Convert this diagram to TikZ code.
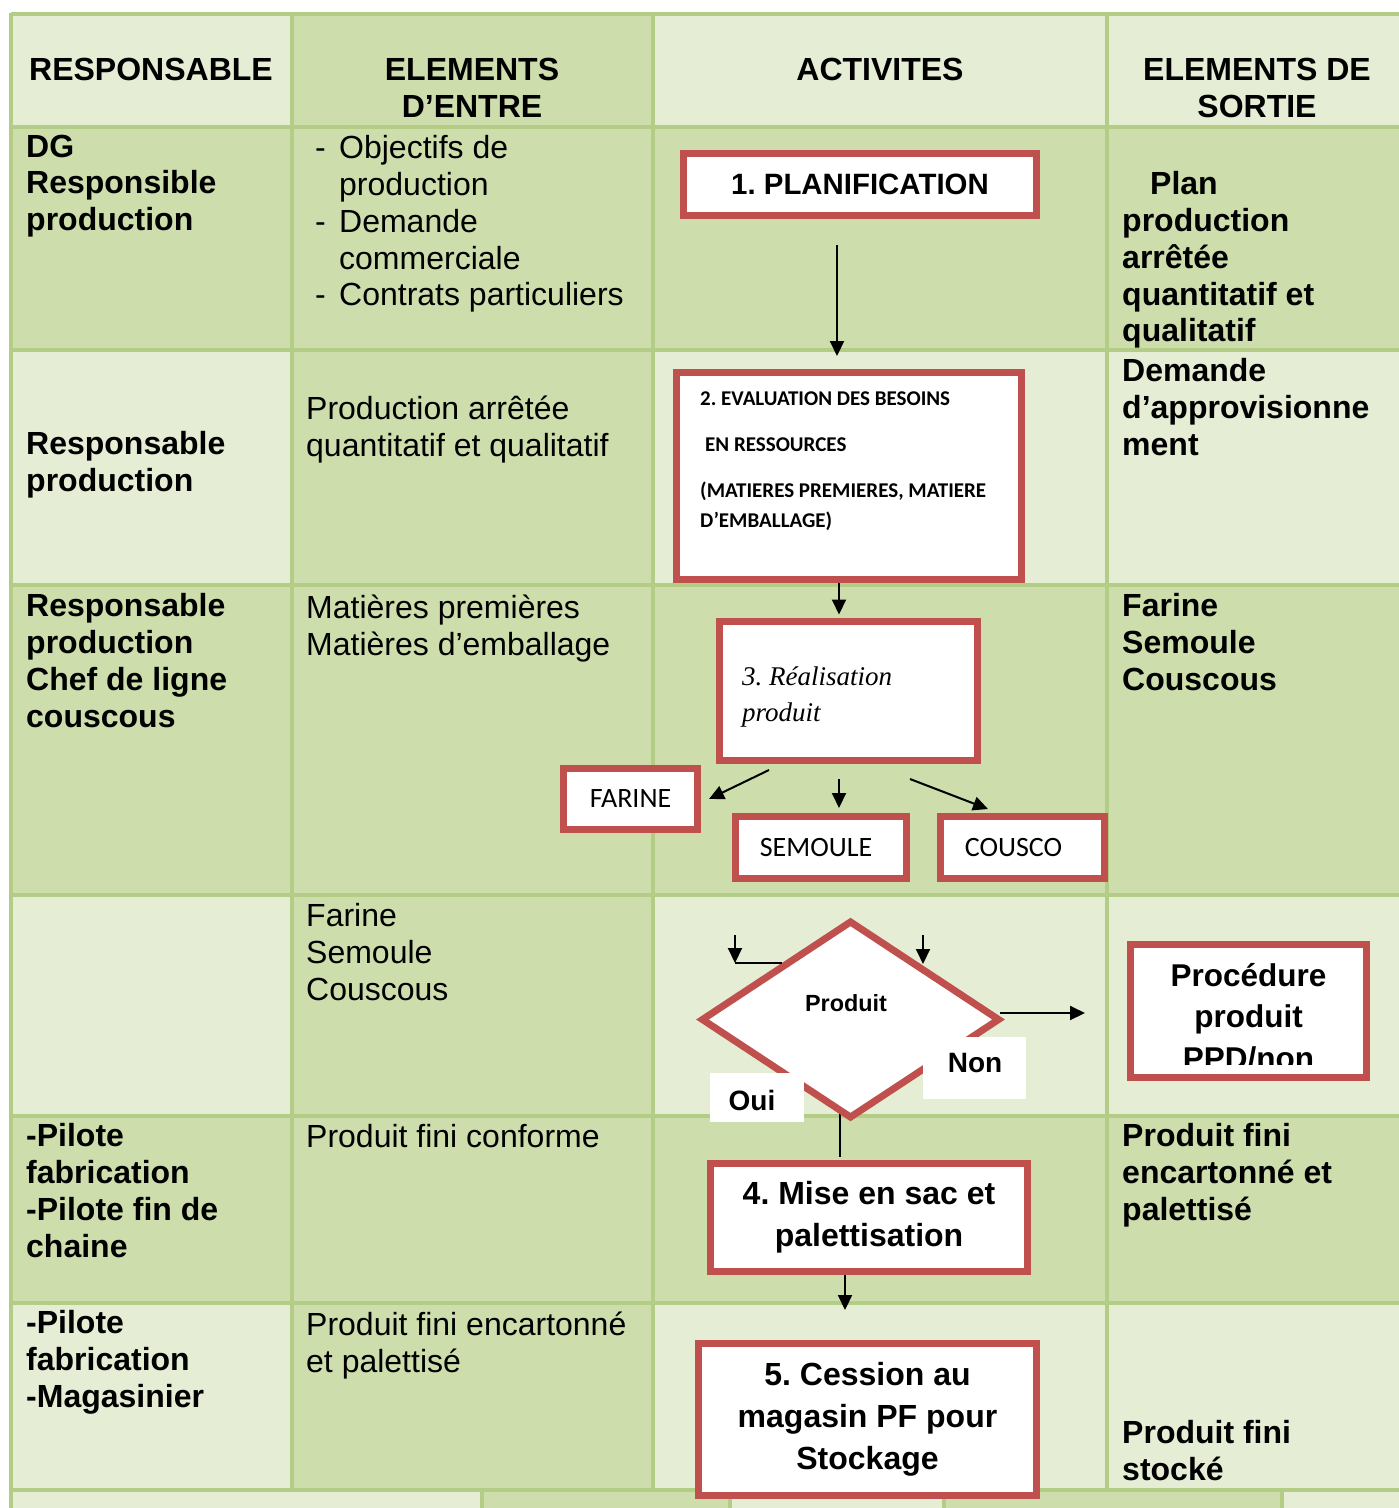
\documentclass[tikz,border=0pt]{standalone}
\usepackage{fontspec}
\setmainfont{Liberation Sans}
\newfontfamily\calib{Carlito}
\newfontfamily\timesf{Liberation Serif}
\usetikzlibrary{arrows.meta,shapes.geometric}
\definecolor{lightg}{HTML}{E5EDD5}
\definecolor{darkg}{HTML}{CDDDAC}
\definecolor{gridc}{HTML}{B3CC86}
\definecolor{redb}{HTML}{C0504D}
\frenchspacing
\begin{document}
\begin{tikzpicture}[x=1pt,y=-1pt,
  gridline/.style={draw=gridc, line width=3.5pt},
  redbox/.style={draw=redb, line width=7pt, fill=white, rectangle, inner sep=0pt},
  arr/.style={line width=2pt, -{Triangle[length=15pt,width=14pt]}},
  plainline/.style={line width=2pt},
  hdr/.style={font=\fontsize{32}{37}\selectfont\bfseries, align=center, inner sep=0pt},
  bl/.style={font=\fontsize{32}{36.75}\selectfont\bfseries, align=left, anchor=north west, inner sep=0pt},
  rl/.style={font=\fontsize{32}{36.75}\selectfont, align=left, anchor=north west, inner sep=0pt},
  boxtxt/.style={font=\fontsize{32}{42}\selectfont\bfseries, align=center},
  prodtxt/.style={font=\calib\fontsize{28}{32}\selectfont},
  lbltxt/.style={font=\fontsize{28}{32}\selectfont\bfseries, inner sep=0pt},
  whitelbl/.style={fill=white, draw=none, inner sep=0pt}
]
\useasboundingbox (0,0) rectangle (1399,1508);
\fill[white] (0,0) rectangle (1399,1508);
% ---- cell shading ----
\fill[lightg] (11,13) rectangle (1399,1490);
\fill[darkg] (292,13) rectangle (653,1490);
\fill[darkg] (11,127) rectangle (1399,350);
\fill[darkg] (11,585) rectangle (1399,895);
\fill[darkg] (11,1116) rectangle (1399,1303);
\fill[lightg] (11,1490) rectangle (482,1508);
\fill[darkg] (482,1490) rectangle (730,1508);
\fill[lightg] (730,1490) rectangle (944,1508);
\fill[darkg] (944,1490) rectangle (1282,1508);
\fill[lightg] (1282,1490) rectangle (1399,1508);
% ---- grid ----
\foreach \y in {14,127,350,585,895,1116,1303,1490} \draw[gridline] (11,\y) -- (1399,\y);
\foreach \x in {11,292,653,1107} \draw[gridline] (\x,13) -- (\x,1490);
\foreach \x in {11,482,730,944,1282} \draw[gridline] (\x,1490) -- (\x,1508);
% ---- header ----
\node[hdr] (h1) at (151,69) {RESPONSABLE};
\node[hdr] (h2) at (472,87.5) {ELEMENTS\\D’ENTRE};
\node[hdr] (h3) at (880,69) {ACTIVITES};
\node[hdr] (h4) at (1257,87.5) {ELEMENTS DE\\SORTIE};
% ---- column 1 ----
\node[bl] (c1r1) at (26,134.5) {DG\\Responsible\\production};
\node[bl] (c1r2) at (26,431.5) {Responsable\\production};
\node[bl] (c1r3) at (26,593.5) {Responsable\\production\\Chef de ligne\\couscous};
\node[bl] (c1r5) at (26,1123.5) {-Pilote\\fabrication\\-Pilote fin de\\chaine};
\node[bl] (c1r6) at (26,1310.5) {-Pilote\\fabrication\\-Magasinier};
% ---- column 2 ----
\node[rl] (c2r1) at (315,135.5) {\makebox[24pt][l]{-}Objectifs de\\\hspace*{24pt}production\\\makebox[24pt][l]{-}Demande\\\hspace*{24pt}commerciale\\\makebox[24pt][l]{-}Contrats particuliers};
\node[rl] (c2r2) at (306,395.5) {Production arrêtée\\quantitatif et qualitatif};
\node[rl] (c2r3) at (306,594.5) {Matières premières\\Matières d’emballage};
\node[rl] (c2r4) at (306,903.5) {Farine\\Semoule\\Couscous};
\node[rl] (c2r5) at (306,1124.5) {Produit fini conforme};
\node[rl] (c2r6) at (306,1311.5) {Produit fini encartonné\\et palettisé};
% ---- column 4 ----
\node[bl] (c4r1) at (1122,171.5) {\hspace*{28pt}Plan\\production\\arrêtée\\quantitatif et\\qualitatif};
\node[bl] (c4r2) at (1122,358.5) {Demande\\d’approvisionne\\ment};
\node[bl] (c4r3) at (1122,593.5) {Farine\\Semoule\\Couscous};
\node[bl] (c4r5) at (1122,1123.5) {Produit fini\\encartonné et\\palettisé};
\node[bl] (c4r6) at (1122,1420.5) {Produit fini\\stocké};
% ---- activity boxes ----
\node[redbox, minimum width=353pt, minimum height=62pt, font=\fontsize{29.4}{34}\selectfont\bfseries] (b1) at (860,184.5) {1. PLANIFICATION};
\node[redbox, minimum width=345pt, minimum height=207pt] (b2) at (849,476) {};
\node[anchor=north west, inner sep=0pt, align=left, font=\calib\bfseries\fontsize{21}{30}\selectfont] (b2t) at (700,392) {2. EVALUATION DES BESOINS\\[16pt]\hspace*{5pt}EN RESSOURCES\\[16pt](MATIERES PREMIERES, MATIERE\\D’EMBALLAGE)};
\node[redbox, minimum width=258pt, minimum height=139pt] (b3) at (848.5,691) {};
\node[anchor=north west, inner sep=0pt, align=left, font=\timesf\itshape\fontsize{27}{36}\selectfont] (b3t) at (742,667) {3. Réalisation\\produit};
\node[redbox, minimum width=134pt, minimum height=61pt, prodtxt] (far) at (630.5,799) {FARINE};
\node[redbox, minimum width=171pt, minimum height=62pt, prodtxt] (sem) at (821,847.5) {\hspace*{-10pt}SEMOULE};
\node[redbox, minimum width=164pt, minimum height=62pt, prodtxt] (cou) at (1022.5,847.5) {\hspace*{-18pt}COUSCO};
% ---- arrows ----
\coordinate (p1s) at (837,245);
\coordinate (p1e) at (837,356);
\draw[arr] (p1s) -- (p1e);
\draw[arr] ([xshift=-10pt]b2.south) -- ([xshift=-9.5pt,yshift=3.5pt]b3.north);
\coordinate (fs) at (769,770); \coordinate (fe) at (709,799);
\coordinate (ss) at (839,779); \coordinate (se) at (839,808);
\coordinate (cs) at (910,779); \coordinate (ce) at (988,809);
\draw[arr] (fs) -- (fe);
\draw[arr] (ss) -- (se);
\draw[arr] (cs) -- (ce);
% ---- boxes 4 (drawn before the decision so the link starts under the diamond) ----
\node[redbox, minimum width=317pt, minimum height=108pt, boxtxt] (b4) at (869,1217.5) {4. Mise en sac et\\palettisation};
\coordinate (dlink) at (839.5,1100);
\draw[plainline] (dlink) -- ([xshift=-29.5pt,yshift=3.5pt]b4.north);
% ---- decision ----
\node[diamond, draw=redb, line width=7pt, fill=white, minimum width=299pt, minimum height=198pt, inner sep=0pt] (dia) at (850.5,1019.5) {};
\node[font=\fontsize{23.4}{28}\selectfont\bfseries, inner sep=0pt] (diat) at (846,1003) {Produit};
\coordinate (l1s) at (735,935); \coordinate (l1c) at (735,963); \coordinate (l1e) at (782,963);
\draw[arr] (l1s) -- (l1c);
\draw[plainline] (l1c) -- (l1e);
\coordinate (r1s) at (923,935); \coordinate (r1e) at (923,964);
\draw[arr] (r1s) -- (r1e);
\coordinate (hs) at (1000,1013); \coordinate (he) at (1085,1013);
\draw[arr] (hs) -- (he);
\node[whitelbl, minimum width=103pt, minimum height=62pt] (nonb) at (974.5,1068) {};
\node[lbltxt] (nont) at (975,1063) {Non};
\node[whitelbl, minimum width=94pt, minimum height=49pt] (ouib) at (757,1097.5) {};
\node[lbltxt] (ouit) at (752,1100) {Oui};
\node[redbox, minimum width=236pt, minimum height=133pt] (proc) at (1248.5,1011) {};
\begin{scope}
\clip (1131,946) rectangle (1366,1064);
\node[anchor=north, inner sep=0pt, align=center, font=\fontsize{31.5}{41.5}\selectfont\bfseries] (proct) at (1248.5,963) {Procédure\\produit\\PPD/non};
\end{scope}
% ---- box 5 ----
\node[redbox, minimum width=338pt, minimum height=152pt, boxtxt] (b5) at (867.5,1419.5) {5. Cession au\\magasin PF pour\\Stockage};
\coordinate (a45e) at (845,1310);
\draw[arr] ([xshift=-24pt]b4.south) -- (a45e);
\end{tikzpicture}
\end{document}
